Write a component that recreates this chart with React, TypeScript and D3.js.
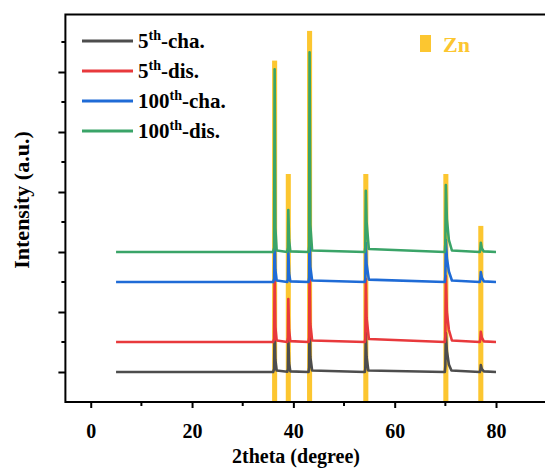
import { useEffect, useRef } from 'react';
import * as d3 from 'd3';

type Pt = [number, number];

// 2theta / intensity (arb. units, curves offset vertically)
const cha5: Pt[] = [
  [5, 1.0], [36.0, 1.0], [36.2, 1.1], [36.3, 2.6], [36.45, 1.4], [36.7, 1.05],
  [38.8, 1.01], [38.92, 1.1], [39.0, 2.2], [39.15, 1.3], [39.4, 1.02],
  [43.0, 1.0], [43.1, 1.15], [43.2, 2.8], [43.35, 1.5], [43.7, 1.05],
  [54.1, 1.0], [54.2, 1.1], [54.3, 2.3], [54.45, 1.5], [54.8, 1.05],
  [69.9, 1.0], [70.0, 1.2], [70.1, 2.3], [70.3, 1.7], [70.7, 1.25], [71.2, 1.05],
  [76.8, 1.0], [76.9, 1.05], [77.0, 1.23], [77.2, 1.1], [77.6, 1.02], [80, 1.0],
];
const dis5: Pt[] = [
  [5, 2.0], [36.0, 2.0], [36.2, 2.1], [36.3, 4.4], [36.45, 2.5], [36.7, 2.05],
  [38.8, 2.0], [38.92, 2.15], [39.0, 3.43], [39.15, 2.4], [39.4, 2.03],
  [43.0, 2.0], [43.1, 2.15], [43.2, 4.6], [43.35, 2.6], [43.7, 2.05],
  [54.1, 2.0], [54.2, 2.1], [54.3, 4.1], [54.45, 2.8], [54.9, 2.1],
  [69.9, 2.0], [70.0, 2.2], [70.1, 4.2], [70.3, 3.0], [70.7, 2.4], [71.3, 2.05],
  [76.8, 2.0], [76.9, 2.08], [77.0, 2.34], [77.2, 2.15], [77.6, 2.02], [80, 2.0],
];
const cha100: Pt[] = [
  [5, 4.0], [36.0, 4.0], [36.2, 4.1], [36.3, 5.6], [36.45, 4.4], [36.7, 4.05],
  [38.8, 4.0], [38.92, 4.1], [39.0, 5.1], [39.15, 4.3], [39.4, 4.02],
  [43.0, 4.0], [43.1, 4.15], [43.2, 5.8], [43.35, 4.5], [43.7, 4.05],
  [54.1, 4.0], [54.2, 4.1], [54.3, 5.3], [54.45, 4.6], [54.9, 4.08],
  [69.9, 4.0], [70.0, 4.2], [70.1, 5.4], [70.3, 4.8], [70.7, 4.35], [71.3, 4.05],
  [76.8, 4.0], [76.9, 4.08], [77.0, 4.33], [77.2, 4.15], [77.6, 4.02], [80, 4.0],
];
const dis100: Pt[] = [
  [5, 5.0], [36.0, 5.0], [36.2, 5.15], [36.3, 11.09], [36.45, 5.8], [36.7, 5.05],
  [38.8, 5.0], [38.92, 5.15], [39.0, 6.4], [39.15, 5.4], [39.4, 5.02],
  [43.0, 5.0], [43.1, 5.2], [43.2, 11.66], [43.35, 5.9], [43.7, 5.05],
  [54.1, 5.0], [54.2, 5.15], [54.3, 7.04], [54.45, 6.0], [54.9, 5.1],
  [69.9, 5.0], [70.0, 5.3], [70.1, 7.23], [70.3, 6.1], [70.7, 5.4], [71.3, 5.05],
  [76.8, 5.0], [76.9, 5.08], [77.0, 5.31], [77.2, 5.12], [77.6, 5.02], [80, 5.0],
];

const seriesNames = ['5th-cha.', '5th-dis.', '100th-cha.', '100th-dis.'];
const seriesData = [cha5, dis5, cha100, dis100];
const seriesColors = ['#4d4d4d', '#e8393c', '#1f6bd6', '#3aa468'];

// Zn reference peaks
const znPos = [36.3, 39.0, 43.2, 54.3, 70.1, 77.0];
const znTop = [11.38, 7.6, 12.37, 7.6, 7.6, 5.87];

const xTicks = [0, 20, 40, 60, 80];
const xMinor = [10, 30, 50, 70];

const W = 545;
const H = 468;
const FONT = '"Liberation Serif", "Times New Roman", serif';

const App = () => {
  const svgRef = useRef<SVGSVGElement | null>(null);

  useEffect(() => {
    if (!svgRef.current) return;
    const svg = d3.select(svgRef.current);
    svg.selectAll('*').remove();

    const x = d3.scaleLinear().domain([-5, 95]).range([65.4, 572]);
    const y = d3.scaleLinear().domain([0, 12.92]).range([402, 14.4]);

    // Zn bars
    svg.append('g')
      .selectAll('rect')
      .data(znPos)
      .join('rect')
      .attr('x', d => x(d - 0.5))
      .attr('width', x(1) - x(0))
      .attr('y', (d, i) => y(znTop[i]))
      .attr('height', (d, i) => y(0) - y(znTop[i]))
      .attr('fill', '#fcc630');

    // patterns
    const line = d3.line<Pt>().x(d => x(d[0])).y(d => y(d[1]));
    seriesData.forEach((s, i) => {
      svg.append('path')
        .datum(s)
        .attr('d', line)
        .attr('fill', 'none')
        .attr('stroke', seriesColors[i])
        .attr('stroke-width', 2.6)
        .attr('stroke-linejoin', 'round');
    });

    // axes
    const xAxis = d3.axisBottom(x).tickValues(xTicks).tickSize(6).tickFormat(d3.format('d'));
    const gx = svg.append('g').attr('transform', `translate(0,${y(0)})`).call(xAxis);
    gx.append('g').selectAll('line').data(xMinor).join('line')
      .attr('x1', d => x(d)).attr('x2', d => x(d)).attr('y1', 0).attr('y2', 4)
      .attr('stroke', '#000').attr('stroke-width', 2);

    const yMajor = [1, 3, 5, 7, 9, 11];
    const yMinor = [2, 4, 6, 8, 10, 12];
    const yAxis = d3.axisLeft(y).tickValues(yMajor).tickSize(7).tickFormat(() => '');
    const gy = svg.append('g').attr('transform', `translate(${x(-5)},0)`).call(yAxis);
    gy.append('g').selectAll('line').data(yMinor).join('line')
      .attr('x1', 0).attr('x2', -4).attr('y1', d => y(d)).attr('y2', d => y(d))
      .attr('stroke', '#000').attr('stroke-width', 2);

    gx.select('.domain').remove();
    gy.select('.domain').remove();
    gx.selectAll('.tick line').attr('stroke-width', 2);
    gy.selectAll('.tick line').attr('stroke-width', 2);
    gx.selectAll('.tick text')
      .attr('font-family', FONT).attr('font-size', 20).attr('font-weight', 'bold')
      .attr('fill', '#000').attr('dy', null).attr('y', 36);

    // frame
    svg.append('path')
      .attr('d', `M${x(-5) - 1},${y(0)}H${W}M${x(-5)},${y(0)}V${y(12.92)}H${W}`)
      .attr('fill', 'none').attr('stroke', '#000').attr('stroke-width', 2);

    // axis titles
    svg.append('text')
      .attr('x', 296).attr('y', 463)
      .attr('text-anchor', 'middle')
      .attr('font-family', FONT).attr('font-size', 20).attr('font-weight', 'bold')
      .text('2theta (degree)');
    svg.append('text')
      .attr('transform', 'translate(29,200) rotate(-90)')
      .attr('text-anchor', 'middle')
      .attr('font-family', FONT).attr('font-size', 22).attr('font-weight', 'bold')
      .text('Intensity (a.u.)');

    // legend
    const leg = svg.append('g').attr('font-family', FONT).attr('font-weight', 'bold');
    seriesNames.forEach((name, i) => {
      const ly = 41 + i * 30;
      leg.append('line')
        .attr('x1', 82).attr('x2', 133).attr('y1', ly).attr('y2', ly)
        .attr('stroke', seriesColors[i]).attr('stroke-width', 3);
      const m = name.match(/^(\d+)(th)(.*)$/);
      const t = leg.append('text').attr('x', 138).attr('y', ly + 7).attr('font-size', 21);
      if (m) {
        t.append('tspan').text(m[1]);
        t.append('tspan').attr('dy', -8).attr('font-size', 14).text(m[2]);
        t.append('tspan').attr('dy', 8).text(m[3]);
      } else {
        t.text(name);
      }
    });

    svg.append('rect')
      .attr('x', 420).attr('y', 35).attr('width', 11).attr('height', 17)
      .attr('fill', '#fcc630');
    svg.append('text')
      .attr('x', 443).attr('y', 52)
      .attr('font-family', FONT).attr('font-size', 22).attr('font-weight', 'bold')
      .attr('fill', '#fcc630')
      .text('Zn');
  }, []);

  return (
    <div style={{ position: 'absolute', left: 0, top: 0 }}>
      <svg ref={svgRef} width={W} height={H} style={{ display: 'block', background: '#fff' }} />
    </div>
  );
};

export default App;
